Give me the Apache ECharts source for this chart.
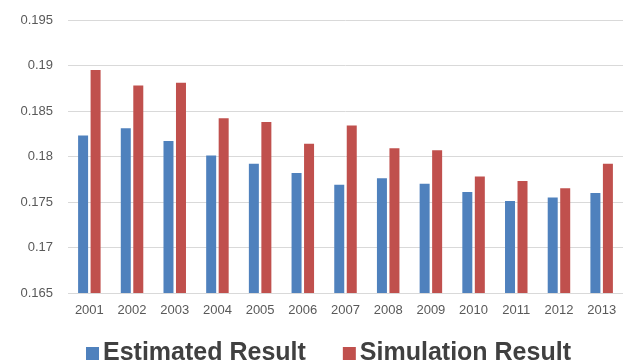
<!DOCTYPE html>
<html><head><meta charset="utf-8">
<script src="https://cdn.jsdelivr.net/npm/echarts@6/dist/echarts.min.js"></script>
<style>html,body{margin:0;padding:0;background:#fff}#c{width:632px;height:363px}</style>
</head><body><div id="c"></div>
<script>
const years = ['2001','2002','2003','2004','2005','2006','2007','2008','2009','2010','2011','2012','2013'];
const estimated = [0.1823,0.1831,0.1817,0.1801,0.1792,0.1782,0.1769,0.1776,0.1770,0.1761,0.1751,0.1755,0.1760];
const simulation = [0.1895,0.1878,0.1881,0.1842,0.1838,0.1814,0.1834,0.1809,0.1807,0.1778,0.1773,0.1765,0.1792];
const seriesNames = ['Estimated Result','Simulation Result'];

const chart = echarts.init(document.getElementById('c'));
chart.setOption({
  animation:false,
  grid:{left:68,right:9,top:20,bottom:70},
  legend:{top:336,left:81,itemWidth:13,itemHeight:13,itemGap:37,icon:'rect',
    textStyle:{fontFamily:'Liberation Sans, Arial',fontWeight:'bold',fontSize:25,color:'#404040',padding:[0,0,0,-1]},
    data:seriesNames},
  xAxis:{type:'category',data:years,
    axisLine:{show:false},axisTick:{show:false},
    axisLabel:{fontFamily:'Liberation Sans, Arial',fontSize:13,color:'#595959',margin:11}},
  yAxis:{type:'value',min:0.165,max:0.195,interval:0.005,
    axisLine:{show:false},axisTick:{show:false},
    splitLine:{lineStyle:{color:'#d9d9d9',width:1}},
    axisLabel:{fontFamily:'Liberation Sans, Arial',fontSize:13,color:'#595959',margin:15,
      formatter:v=>String(+v.toFixed(3))}},
  series:[
    {name:seriesNames[0],type:'bar',data:estimated,barWidth:10,barGap:'25%',itemStyle:{color:'#4f81bd'}},
    {name:seriesNames[1],type:'bar',data:simulation,barWidth:10,barGap:'25%',itemStyle:{color:'#c0504d'}}
  ]
});
</script></body></html>
